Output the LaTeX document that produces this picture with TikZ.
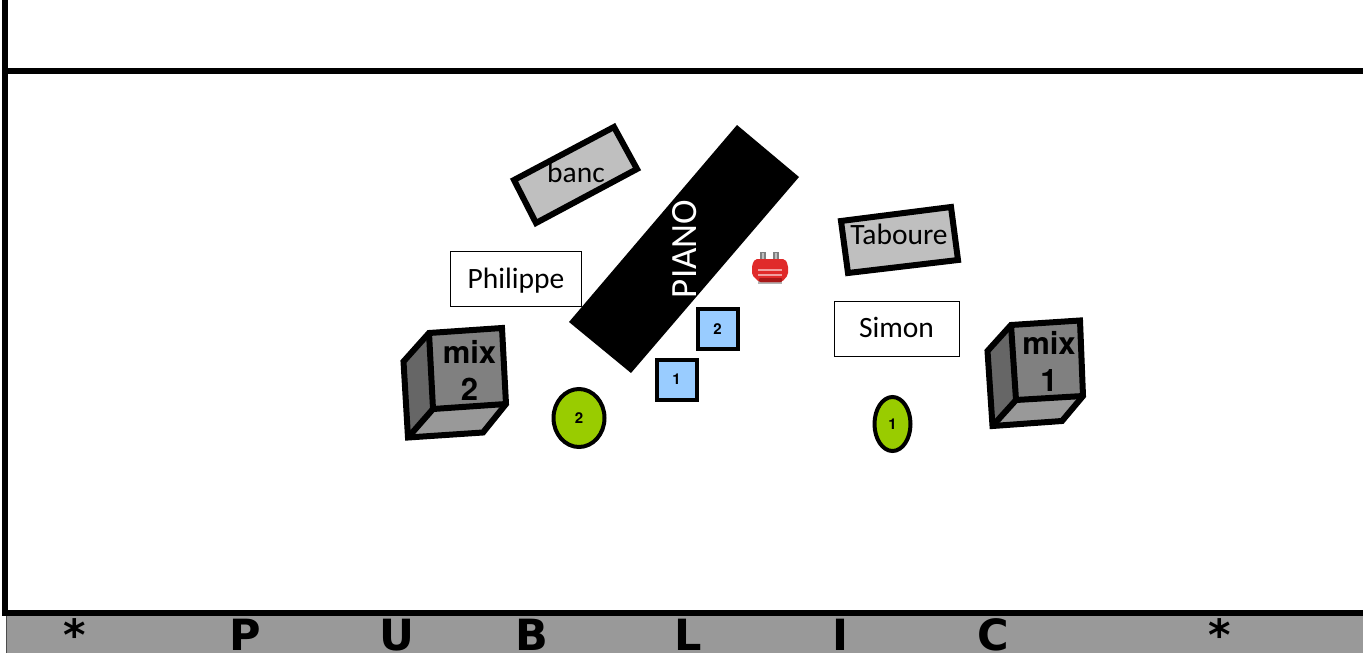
\documentclass[tikz,border=0pt]{standalone}
\usepackage{fontspec}
\usetikzlibrary{shapes.geometric}
\setmainfont{Carlito}
\newfontfamily\pubfont{DejaVu Sans}
\newfontfamily\mixfont{TeX Gyre Heros}
\begin{document}
\begin{tikzpicture}[x=1pt,y=-1pt,
  wall/.style={line width=6pt,black},
  thick box/.style={draw=black,line width=6pt,line join=miter,fill=#1},
  cube edge/.style={draw=black,line width=6pt,line join=miter,miter limit=6},
  person/.style={draw=black,line width=1pt,fill=white,font=\fontsize{29.5}{32}\selectfont,inner sep=0pt,anchor=center,text height=22pt,text depth=4pt},
  label/.style={font=\fontsize{29.5}{32}\selectfont,inner sep=0pt},
  mixlabel/.style={font=\mixfont\bfseries\fontsize{31}{36}\selectfont,inner sep=0pt,align=center},
  numsq/.style={draw=black,line width=4pt,fill=numblue,minimum size=40pt,inner sep=0pt,font=\mixfont\bfseries\fontsize{15}{18}\selectfont},
  numel/.style={draw=black,line width=4pt,fill=numgreen,ellipse,inner sep=0pt,font=\mixfont\bfseries\fontsize{15}{18}\selectfont},
  publetter/.style={font=\pubfont\bfseries\fontsize{43}{46}\selectfont,inner sep=0pt,anchor=base}
]
\definecolor{numblue}{HTML}{99CCFF}
\definecolor{numgreen}{HTML}{99CC00}
\definecolor{seat}{HTML}{BFBFBF}
\definecolor{plugred}{HTML}{E02A2A}
\definecolor{plugdark}{HTML}{A81818}
\useasboundingbox (0,0) rectangle (1363,653);
\fill[white] (0,0) rectangle (1363,653);
% public band
\fill[black!40] (7,616) rectangle (1363,653);
\draw[black!70,line width=1pt] (6.5,616) -- (6.5,653);
\draw[wall] (5,0) -- (5,616);
\draw[wall] (2,71) -- (1363,71);
\draw[wall] (2,613) -- (1363,613);
\foreach \px/\t in {75/*,245/P,397/U,532/B,688/L,840/I,993/C,1220/*}
  \node[publetter] at (\px,650) {\t};
% piano
\fill[black] (737,125) -- (799,177) -- (631,373) -- (569,322) -- cycle;
\node[label,white,rotate=90,font=\fontsize{37}{40}\selectfont] (piano) at (684.5,249) {PIANO};
% seats
\draw[thick box=seat] (514,180) -- (614,127) -- (637,169) -- (536,223) -- cycle;
\node[label] (banc) at (576,172) {banc};
\draw[thick box=seat] (841,221) -- (951,207) -- (958,260) -- (848,273) -- cycle;
\node[label] (tabouret) at (899,234) {Taboure};
% people
\node[person,minimum width=131pt,minimum height=55pt] (philippe) at (516,279) {Philippe};
\node[person,minimum width=125pt,minimum height=55pt] (simon) at (896.5,328.5) {Simon};
% mix 2
\fill[black!60] (429,333) -- (403.5,361.5) -- (408,437.5) -- (433,409) -- cycle;
\fill[black!40] (433,409) -- (506,404) -- (483,432.5) -- (408,437.5) -- cycle;
\fill[black!50] (429,333) -- (502,328) -- (506,404) -- (433,409) -- cycle;
\draw[cube edge] (429,333) -- (502,328) -- (506,404) -- (483,432.5) -- (408,437.5) -- (403.5,361.5) -- cycle;
\draw[cube edge] (429,333) -- (433,409) -- (506,404) (433,409) -- (408,437.5);
\node[mixlabel] (mixb) at (469.5,370) {mix\\[1pt]2};
% mix 1
\fill[black!60] (1011,325) -- (987.5,351) -- (992.5,426) -- (1016,400) -- cycle;
\fill[black!40] (1016,400) -- (1083,396) -- (1062,421) -- (992.5,426) -- cycle;
\fill[black!50] (1011,325) -- (1080,320.5) -- (1083,396) -- (1016,400) -- cycle;
\draw[cube edge] (1011,325) -- (1080,320.5) -- (1083,396) -- (1062,421) -- (992.5,426) -- (987.5,351) -- cycle;
\draw[cube edge] (1011,325) -- (1016,400) -- (1083,396) (1016,400) -- (992.5,426);
\node[mixlabel] (mixa) at (1049,361) {mix\\[1pt]1};
% numbered stands
\node[numsq] (sq2) at (717.5,329) {2};
\node[numsq] (sq1) at (676.5,379.5) {1};
\node[numel,minimum width=51pt,minimum height=58pt] (el2) at (579,418) {2};
\node[numel,minimum width=36pt,minimum height=54pt] (el1) at (892.5,424) {1};
% plug icon
\fill[black!50] (760,252) rectangle (766,262);
\fill[black!50] (773,252) rectangle (779,262);
\fill[black!25] (761.5,253) rectangle (763.5,261);
\fill[black!25] (774.5,253) rectangle (776.5,261);
\fill[black!30] (758,280) rectangle (782,284);
\fill[plugred,rounded corners=2pt] (755,259) -- (785,259) -- (788,265) -- (788,275) -- (782,282) -- (759,282) -- (752,275) -- (752,265) -- cycle;
\fill[plugdark,rounded corners=1pt] (759,278) rectangle (782,282);
\draw[white!55!plugred,line width=1.2pt] (758,270) -- (782,270) (758,275) -- (782,275);
\end{tikzpicture}
\end{document}
